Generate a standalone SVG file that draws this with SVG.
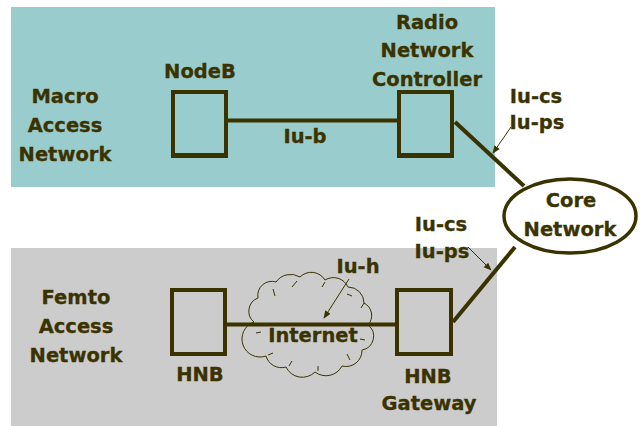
<svg xmlns="http://www.w3.org/2000/svg" width="640" height="426" viewBox="0 0 640 426">
<style>
.t{font-family:"DejaVu Sans",sans-serif;font-weight:bold;font-size:19.5px;fill:#3a3300;stroke:#3a3300;stroke-width:0.3;text-anchor:middle}
.box{fill:none;stroke:#3a3300;stroke-width:4}
.link{stroke:#3a3300;stroke-width:4;fill:none}
.thin{stroke:#3a3300;stroke-width:1;fill:none}
</style>
<defs>
<marker id="ah" viewBox="0 0 10 10" refX="9" refY="5" markerWidth="8" markerHeight="8" markerUnits="userSpaceOnUse" orient="auto">
<path d="M0,1 L10,5 L0,9 Z" fill="#3a3300"/>
</marker>
</defs>
<rect width="640" height="426" fill="#ffffff"/>
<g id="macro-area">
<rect x="11" y="7" width="484" height="180" fill="#99cccc"/>
<text class="t" x="65" y="103">Macro</text>
<text class="t" x="65" y="132">Access</text>
<text class="t" x="65" y="161">Network</text>
</g>
<g id="femto-area">
<rect x="11" y="248" width="486" height="178" fill="#cccccc"/>
<text class="t" x="76" y="304">Femto</text>
<text class="t" x="76" y="333">Access</text>
<text class="t" x="76" y="362">Network</text>
</g>
<g id="cloud">
<path class="thin" d="M254,322 A14,14 0 0 1 258,298 A14,14 0 0 1 276,282 A18,18 0 0 1 300,277 A16,16 0 0 1 325,280 A16,16 0 0 1 348,287 A16,16 0 0 1 364,303 A14,14 0 0 1 368,325 A14,14 0 0 1 362,350 A16,16 0 0 1 342,366 A18,18 0 0 1 315,372 A18,18 0 0 1 286,367 A16,16 0 0 1 266,356 A16,16 0 0 1 254,322 Z"/>
<path class="thin" d="M273,289 l2,7 M297,281 l-5,6 M325,282 l-3,5 M352,296 l-5,-2 M364,303 l-3,5 M365,340 l-5,-1 M350,360 l-3,-6 M318,371 l0,-5 M289,366 l3,-5 M268,355 l5,-2 M256,333 l5,-1"/>
<text class="t" x="313" y="342">Internet</text>
</g>
<g id="connectors">
<line class="link" x1="228" y1="120.5" x2="397" y2="120.5"/>
<line class="link" x1="227" y1="324.5" x2="395" y2="324.5"/>
<line class="link" stroke-width="3.5" x1="455" y1="122" x2="524" y2="186"/>
<line class="link" stroke-width="3.5" x1="453" y1="322" x2="515" y2="247"/>
<line class="thin" x1="511" y1="127" x2="493" y2="153" marker-end="url(#ah)"/>
<line class="thin" x1="468" y1="247" x2="491" y2="270" marker-end="url(#ah)"/>
<line class="thin" x1="349" y1="279" x2="324" y2="318" marker-end="url(#ah)"/>
<text class="t" x="305" y="143">Iu-b</text>
<text class="t" x="536" y="103">Iu-cs</text>
<text class="t" x="537" y="129">Iu-ps</text>
<text class="t" x="441" y="231">Iu-cs</text>
<text class="t" x="442" y="258">Iu-ps</text>
<text class="t" x="358" y="273">Iu-h</text>
</g>
<g id="nodeb">
<rect class="box" x="173" y="92" width="53" height="64"/>
<line class="link" stroke-width="2" x1="171" y1="155" x2="228" y2="155"/>
<text class="t" x="200" y="78">NodeB</text>
</g>
<g id="rnc">
<rect class="box" x="399" y="92" width="53" height="64"/>
<line class="link" stroke-width="2" x1="397" y1="155" x2="454" y2="155"/>
<text class="t" x="427" y="29">Radio</text>
<text class="t" x="427" y="57">Network</text>
<text class="t" x="427" y="86">Controller</text>
</g>
<g id="core">
<ellipse cx="570" cy="216" rx="66" ry="37" fill="#ffffff" stroke="#3a3300" stroke-width="3.5"/>
<text class="t" x="571" y="207">Core</text>
<text class="t" x="570" y="236">Network</text>
</g>
<g id="hnb">
<rect class="box" x="172" y="290" width="53" height="64"/>
<text class="t" x="200" y="381">HNB</text>
</g>
<g id="hnb-gateway">
<rect class="box" x="397" y="290" width="54" height="64"/>
<text class="t" x="428" y="383">HNB</text>
<text class="t" x="429" y="410">Gateway</text>
</g>
</svg>
